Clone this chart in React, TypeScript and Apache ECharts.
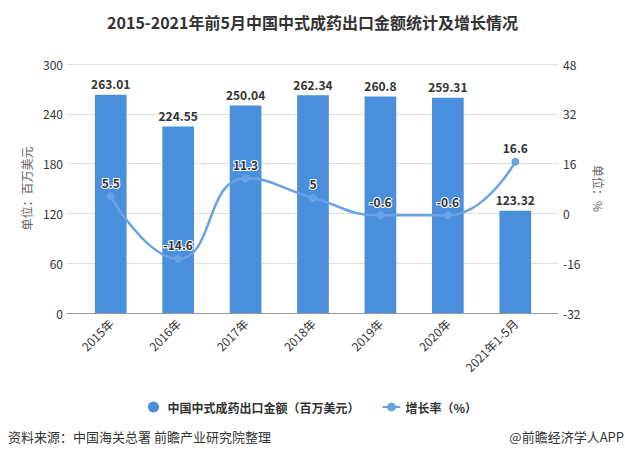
import React, { useEffect, useRef } from "react";
import * as echarts from "echarts";

const categories = ["2015年", "2016年", "2017年", "2018年", "2019年", "2020年", "2021年1-5月"];
const exportValues = [263.01, 224.55, 250.04, 262.34, 260.8, 259.31, 123.32];
const growthRates = [5.5, -14.6, 11.3, 5, -0.6, -0.6, 16.6];
const barName = "中国中式成药出口金额（百万美元）";
const lineName = "增长率（%）";

export default function App() {
  const ref = useRef<HTMLDivElement>(null);
  useEffect(() => {
    const chart = echarts.init(ref.current!, null, { renderer: "svg" });
    const font = "'Microsoft YaHei', 'Noto Sans CJK SC', sans-serif";
    chart.setOption({
      animation: false,
      backgroundColor: "#fff",
      textStyle: { fontFamily: font },
      title: {
        text: "2015-2021年前5月中国中式成药出口金额统计及增长情况",
        left: "center",
        top: 9,
        textStyle: { fontSize: 16, fontWeight: "bold", color: "#333", fontFamily: font },
      },
      legend: {
        top: 396,
        left: "center",
        itemGap: 22,
        itemWidth: 18,
        itemHeight: 11,
        textStyle: { fontSize: 12, color: "#333", fontWeight: "bold" },
        data: [
          { name: barName, icon: "circle" },
          { name: lineName },
        ],
      },
      graphic: [
        {
          type: "text",
          left: 8,
          top: 430,
          style: { text: "资料来源：中国海关总署 前瞻产业研究院整理", fontSize: 13, fill: "#333", fontFamily: font },
        },
        {
          type: "text",
          right: 1,
          top: 430,
          style: { text: "@前瞻经济学人APP", fontSize: 13, fill: "#333", fontFamily: font },
        },
      ],
      grid: [
        { left: 67, right: 67, top: 64, bottom: 147, containLabel: false },
        { left: 77, right: 76, top: 64, bottom: 147, containLabel: false },
      ],
      xAxis: [
        {
          type: "category",
          gridIndex: 0,
          data: categories,
          axisTick: { show: false },
          axisLabel: { show: false },
          axisLine: { lineStyle: { color: "#999" } },
          splitLine: { show: false },
        },
        {
          type: "category",
          gridIndex: 1,
          data: categories,
          axisTick: { alignWithLabel: true, lineStyle: { color: "#999" } },
          axisLine: { show: false },
          axisLabel: { rotate: 45, fontSize: 12, color: "#333", margin: 8 },
        },
      ],
      yAxis: [
        {
          type: "value",
          gridIndex: 0,
          min: 0,
          max: 300,
          interval: 60,
          name: "单位：百万美元",
          nameLocation: "middle",
          nameGap: 34,
          nameRotate: 90,
          nameTextStyle: { color: "#666", fontSize: 12 },
          axisLine: { show: false },
          axisTick: { show: false },
          axisLabel: { color: "#333", fontSize: 12, margin: 4 },
          splitLine: { lineStyle: { color: "#e0e0e0" } },
        },
        {
          type: "value",
          gridIndex: 0,
          min: -32,
          max: 48,
          interval: 16,
          name: "单位：%",
          nameLocation: "middle",
          nameGap: 34,
          nameRotate: -90,
          nameTextStyle: { color: "#666", fontSize: 12 },
          axisLine: { show: false },
          axisTick: { show: false },
          axisLabel: { color: "#333", fontSize: 12, margin: 5 },
          splitLine: { show: false },
        },
        { type: "value", gridIndex: 1, min: 0, max: 300, interval: 60, show: false },
        { type: "value", gridIndex: 1, min: -32, max: 48, interval: 16, show: false, position: "right" },
      ],
      series: [
        {
          name: barName,
          type: "bar",
          xAxisIndex: 1,
          yAxisIndex: 2,
          data: exportValues,
          barWidth: "47%",
          itemStyle: { color: "#4a8fdc" },
          label: {
            show: true,
            position: "top",
            fontSize: 12,
            fontWeight: "bold",
            color: "#333",
          },
        },
        {
          name: lineName,
          type: "line",
          xAxisIndex: 1,
          yAxisIndex: 3,
          data: growthRates,
          smooth: true,
          symbol: "circle",
          symbolSize: 8,
          itemStyle: { color: "#6aa2e6" },
          lineStyle: { color: "#6aa2e6", width: 2.5 },
          label: {
            show: true,
            position: "top",
            fontSize: 12,
            fontWeight: "bold",
            color: "#333",
            textBorderColor: "#fff",
            textBorderWidth: 2,
            distance: 4,
          },
        },
      ],
    });
    return () => chart.dispose();
  }, []);
  return <div ref={ref} style={{ position: "fixed", left: 0, top: 0, width: 625, height: 460 }} />;
}
